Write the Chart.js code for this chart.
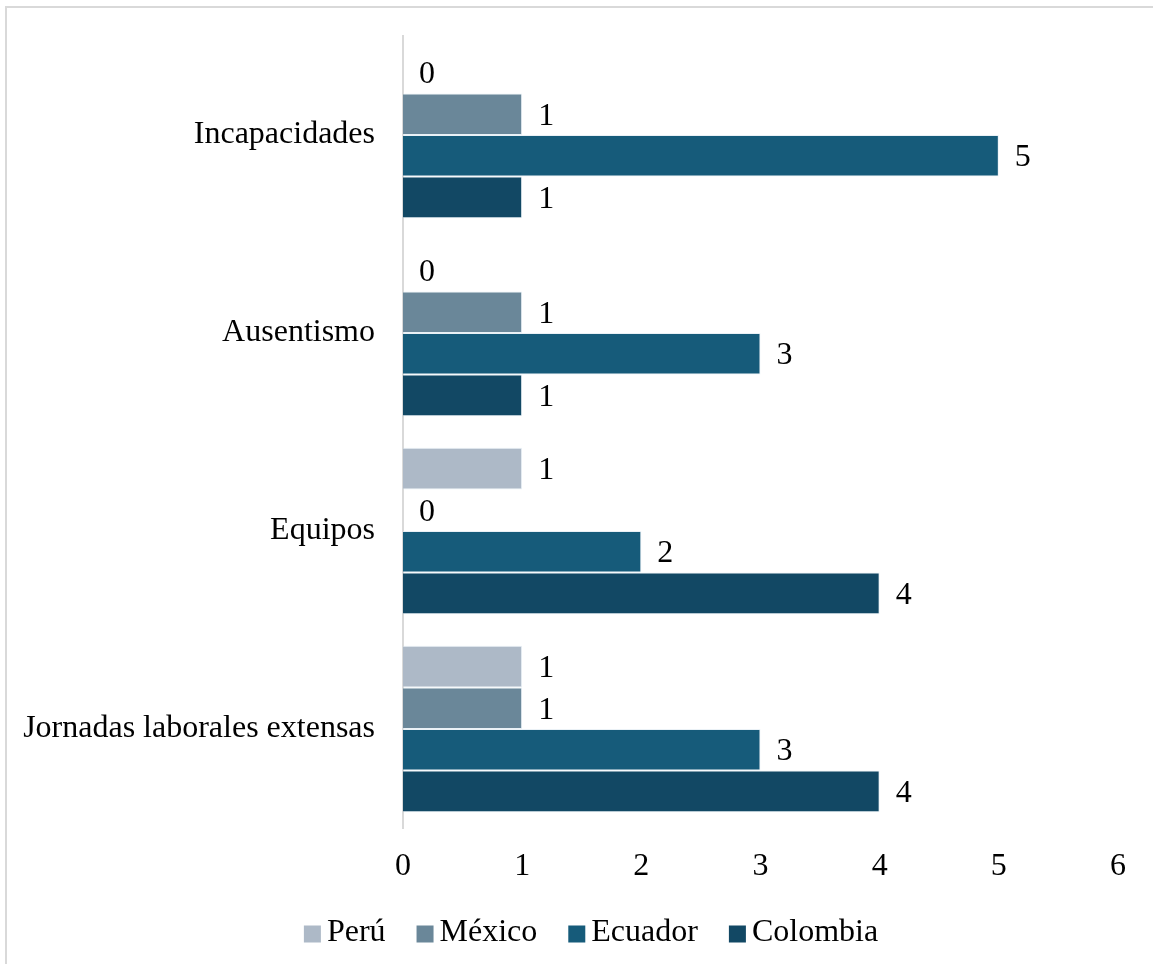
<!DOCTYPE html>
<html lang="es">
<head>
<meta charset="utf-8">
<script src="https://cdn.jsdelivr.net/npm/chart.js@4/dist/chart.umd.min.js"></script>
<style>
  html, body { margin: 0; padding: 0; background: #fff; }
  #wrap { position: relative; width: 1153px; height: 964px; overflow: hidden; }
  #frame { position: absolute; left: 5px; top: 6px; width: 1172px; height: 980px; border: 2px solid #d9d9d9; box-sizing: border-box; }
  canvas { position: absolute; left: 0; top: 0; }
</style>
</head>
<body>
<div id="wrap">
  <div id="frame"></div>
  <canvas id="chart" width="1153" height="964"></canvas>
</div>
<script>
// Categories, top to bottom
const categories = ['Incapacidades', 'Ausentismo', 'Equipos', 'Jornadas laborales extensas'];

// Series values per category
const peru     = [0, 0, 1, 1];
const mexico   = [1, 1, 0, 1];
const ecuador  = [5, 3, 2, 3];
const colombia = [1, 1, 4, 4];

const xTicks = [0, 1, 2, 3, 4, 5, 6];

const serif = "'Liberation Serif', 'Times New Roman', serif";
const fontSize = 32;

// Draws the value next to the end of every bar
const valueLabels = {
    id: 'valueLabels',
    afterDatasetsDraw(chart) {
        const ctx = chart.ctx;
        ctx.save();
        ctx.font = fontSize + 'px ' + serif;
        ctx.fillStyle = '#000';
        ctx.textAlign = 'left';
        ctx.textBaseline = 'middle';
        chart.data.datasets.forEach((ds, i) => {
            const meta = chart.getDatasetMeta(i);
            meta.data.forEach((bar, j) => {
                ctx.fillText(String(ds.data[j]), bar.x + 16, bar.y + 2);
            });
        });
        ctx.restore();
    }
};

// Compact legend under the axis: small square, short gap, series name
const bottomLegend = {
    id: 'bottomLegend',
    afterDraw(chart) {
        const ctx = chart.ctx;
        const box = 17, gap = 6, spacing = 31, cy = 934, centerX = 591;
        ctx.save();
        ctx.font = fontSize + 'px ' + serif;
        ctx.textBaseline = 'middle';
        ctx.textAlign = 'left';
        const items = chart.data.datasets.map(ds => ({
            text: ds.label,
            color: ds.backgroundColor,
            w: ctx.measureText(ds.label).width
        }));
        const total = items.reduce((s, it) => s + box + gap + it.w, 0) + spacing * (items.length - 1);
        let x = centerX - total / 2;
        items.forEach(it => {
            ctx.fillStyle = it.color;
            ctx.fillRect(x, cy - box / 2, box, box);
            ctx.fillStyle = '#000';
            ctx.fillText(it.text, x + box + gap, cy - 1);
            x += box + gap + it.w + spacing;
        });
        ctx.restore();
    }
};

const ctx = document.getElementById('chart').getContext('2d');
new Chart(ctx, {
    type: 'bar',
    data: {
        labels: categories,
        datasets: [
            { label: 'Perú',     data: peru,     backgroundColor: '#adb9c7' },
            { label: 'México',   data: mexico,   backgroundColor: '#6a8799' },
            { label: 'Ecuador',  data: ecuador,  backgroundColor: '#165b7a' },
            { label: 'Colombia', data: colombia, backgroundColor: '#124864' }
        ].map(d => Object.assign(d, {
            borderColor: 'rgba(220,232,240,0.6)',
            borderWidth: 1,
            barPercentage: 1,
            categoryPercentage: 0.84
        }))
    },
    options: {
        indexAxis: 'y',
        responsive: false,
        animation: false,
        layout: { padding: { top: 36, right: 35, left: 20, bottom: 74 } },
        scales: {
            x: {
                min: 0,
                max: 6,
                afterBuildTicks: scale => { scale.ticks = xTicks.map(v => ({ value: v })); },
                grid: { display: false, drawTicks: false },
                border: { display: false },
                ticks: { color: '#000', font: { family: serif, size: fontSize }, padding: 19 },
                afterFit: scale => {
                    scale.height = 62;
                    scale.paddingLeft = 0;
                    scale.paddingRight = 0;
                }
            },
            y: {
                grid: { display: false, drawTicks: false },
                border: { display: true, color: '#d9d9d9', width: 2 },
                ticks: { color: '#000', font: { family: serif, size: fontSize }, padding: 28 },
                afterFit: scale => {
                    scale.width = 383;
                    scale.paddingTop = 0;
                    scale.paddingBottom = 0;
                }
            }
        },
        plugins: {
            legend: { display: false },
            tooltip: { enabled: false }
        }
    },
    plugins: [valueLabels, bottomLegend]
});
</script>
</body>
</html>
